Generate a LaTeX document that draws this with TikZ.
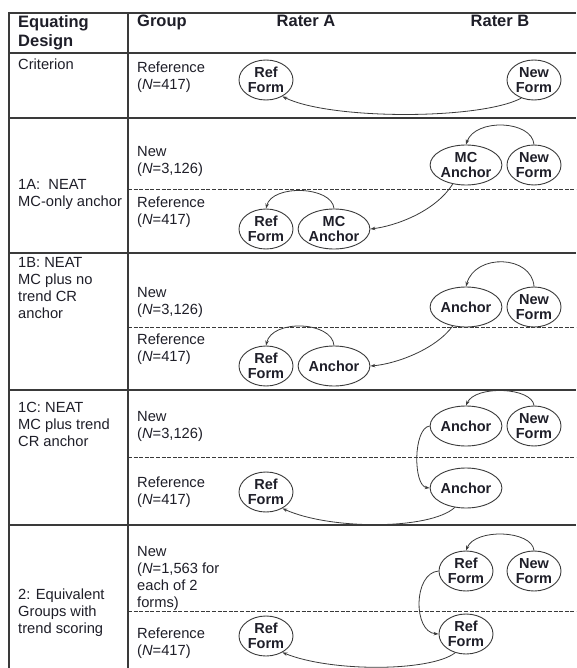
\documentclass[tikz,border=0pt]{standalone}
\usepackage{fontspec}
\setmainfont{Liberation Sans}
\usetikzlibrary{shapes.geometric,arrows.meta}

\definecolor{rule}{HTML}{3A3A3A}
\definecolor{ink}{HTML}{1E1E28}

\tikzset{
  grid/.style={draw=rule, line width=1.3pt},
  frame/.style={draw=rule, line width=2.4pt},
  split/.style={draw=rule, line width=0.8pt, dash pattern=on 4pt off 1.6pt},
  form/.style={ellipse, draw=rule, line width=0.9pt, minimum width=54pt, minimum height=40pt,
    inner sep=0pt, align=center, text=ink,
    font=\fontsize{14.5}{15}\selectfont\bfseries},
  wide/.style={form, minimum width=57pt},
  head/.style={text=ink, font=\fontsize{16.5}{19}\selectfont\bfseries, inner sep=0pt},
  body/.style={text=ink, font=\fontsize{14.7}{17}\selectfont, inner sep=0pt,
    align=left, anchor=north west},
  link/.style={draw=rule, line width=0.8pt, -{Stealth[length=5pt,width=3.5pt]}},
}

\begin{document}
\begin{tikzpicture}[x=1pt, y={(0pt,-1pt)}]
\useasboundingbox (0,0) rectangle (576,668);

% table rules
\draw[grid] (9,13) -- (576,13);
\draw[frame] (9,12) -- (9,668);
\draw[grid] (128,13) -- (128,668);
\foreach \yy in {53,118,253,390,525} \draw[grid] (9,\yy) -- (576,\yy);
\foreach \yy in {189,327,457,611} \draw[split] (128,\yy) -- (576,\yy);

% header
\node[head, align=left, anchor=north west] (h1) at (18,15.1) {Equating\\Design};
\node[head, anchor=base west] (h2) at (137,27) {Group};
\node[head, anchor=base] (h3) at (306,27) {Rater A};
\node[head, anchor=base] (h4) at (500,27) {Rater B};

% design column
\node[body, anchor=base west] (d0) at (18,70) {Criterion};
\node[body] (d1) at (18,179.4) {1A:\ \ NEAT\\MC-only anchor};
\node[body] (d2) at (18,257.4) {1B: NEAT\\MC plus no\\trend CR\\anchor};
\node[body] (d3) at (18,402.4) {1C: NEAT\\MC plus trend\\CR anchor};
\node[body] (d4) at (18,588.4) {2: Equivalent\\Groups with\\trend scoring};

% group column
\node[body] (g0) at (137,61.4) {Reference\\(\textit{N}=417)};
\node[body] (g1a) at (137,146.4) {New\\(\textit{N}=3,126)};
\node[body] (g1b) at (137,196.4) {Reference\\(\textit{N}=417)};
\node[body] (g2a) at (137,287.4) {New\\(\textit{N}=3,126)};
\node[body] (g2b) at (137,333.4) {Reference\\(\textit{N}=417)};
\node[body] (g3a) at (137,411.4) {New\\(\textit{N}=3,126)};
\node[body] (g3b) at (137,476.4) {Reference\\(\textit{N}=417)};
\node[body] (g4a) at (137,546.4) {New\\(\textit{N}=1,563 for\\each of 2\\forms)};
\node[body] (g4b) at (137,627.4) {Reference\\(\textit{N}=417)};

% criterion
\node[form] (rf0) at (266,80) {Ref\\Form};
\node[form] (nf0) at (534,80) {New\\Form};
\draw[link] (nf0.235) .. controls (480,120) and (330,120) .. (rf0.-45);

% 1A
\node[wide] (an1) at (466,165) {MC\\Anchor};
\node[form] (nf1) at (534,165) {New\\Form};
\node[form] (rf1) at (266,229) {Ref\\Form};
\node[wide] (an1b) at (334,229) {MC\\Anchor};
\draw[link] (nf1.north) .. controls (532,120) and (475,118) .. (an1.north);
\draw[link] (an1.235) .. controls (435,212) and (395,226) .. (an1b.east);
\draw[link] (an1b.north) .. controls (332,186) and (272,184) .. (rf1.north);

% 1B
\node[wide] (an2) at (466,307) {Anchor};
\node[form] (nf2) at (534,307) {New\\Form};
\node[form] (rf2) at (266,366) {Ref\\Form};
\node[wide] (an2b) at (334,366) {Anchor};
\draw[link] (nf2.north) .. controls (532,255) and (475,253) .. (an2.north);
\draw[link] (an2.235) .. controls (435,350) and (395,364) .. (an2b.east);
\draw[link] (an2b.north) .. controls (332,321) and (272,319) .. (rf2.north);

% 1C
\node[wide] (an3) at (466,426) {Anchor};
\node[form] (nf3) at (534,426) {New\\Form};
\node[wide] (an3b) at (466,488) {Anchor};
\node[form] (rf3) at (266,492) {Ref\\Form};
\draw[link] (nf3.north) .. controls (532,387) and (475,385) .. (an3.north);
\draw[link] (an3.west) .. controls (413,428) and (413,486) .. (an3b.west);
\draw[link] (an3b.240) .. controls (430,530) and (330,530) .. (rf3.-45);

% 2
\node[form] (rf4) at (466,571) {Ref\\Form};
\node[form] (nf4) at (534,571) {New\\Form};
\node[form] (rf4b) at (466,634) {Ref\\Form};
\node[form] (rf4c) at (266,636) {Ref\\Form};
\draw[link] (nf4.north) .. controls (532,530) and (475,528) .. (rf4.north);
\draw[link] (rf4.west) .. controls (413,573) and (413,632) .. (rf4b.west);
\draw[link] (rf4b.240) .. controls (430,672) and (330,672) .. (rf4c.-45);
\end{tikzpicture}
\end{document}
